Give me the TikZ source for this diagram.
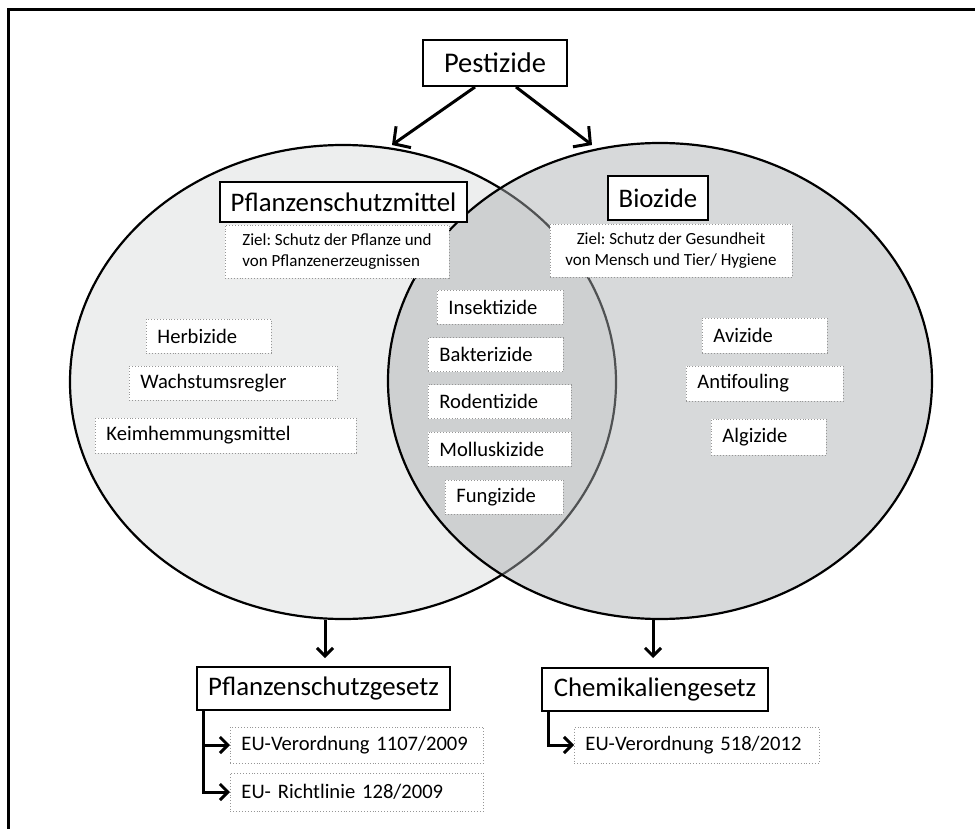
\documentclass[tikz,border=0pt]{standalone}
\usepackage{fontspec}
\setmainfont{Carlito}
\usetikzlibrary{arrows.meta,calc}
\definecolor{lfill}{RGB}{237,238,238}
\definecolor{rfill}{RGB}{172,175,178}
\definecolor{dotgray}{RGB}{150,150,150}
\frenchspacing
\begin{document}
\begin{tikzpicture}[x=1pt,y=-1pt,
  head/.style={draw=black, line width=2.4pt, fill=white, inner sep=0pt, font=\fontsize{26.8}{32}\selectfont},
  item/.style={draw=dotgray, dotted, line width=0.9pt, fill=white, inner xsep=11pt, inner ysep=0pt, text width=#1, align=left, anchor=west, font=\fontsize{20.6}{24}\selectfont, minimum height=34pt},
  ziel/.style={draw=dotgray, dotted, line width=0.9pt, fill=white, inner xsep=0pt, inner ysep=0pt, minimum height=53pt, font=\fontsize{17}{21}\selectfont},
  bigarrow/.style={line width=3pt, -{Straight Barb[length=12pt,width=26pt]}},
  conn/.style={line width=3pt, -{Straight Barb[length=8pt,width=16pt]}}
]
\useasboundingbox (0,0) rectangle (975,829);
\fill[white] (0,0) rectangle (975,829);
% frame
\draw[line width=3pt] (8,829) -- (8,10) -- (975,10);

% ellipses
\draw[line width=2.2pt, fill=lfill] (343,382) ellipse [x radius=273, y radius=237];
\draw[line width=2.2pt, fill=rfill, fill opacity=0.47] (660,381) ellipse [x radius=272, y radius=238];

% top node
\node[head, minimum width=144pt, minimum height=46pt, font=\fontsize{28.5}{34}\selectfont] (pest) at (495,63) {Pestizide};
\coordinate (pL0) at (475,87);
\coordinate (pR0) at (516,87);
\coordinate (eL) at (392,145);
\coordinate (eR) at (592,145);
\draw[bigarrow] (pL0) -- (eL);
\draw[bigarrow] (pR0) -- (eR);

% headings
\node[head, minimum width=247pt, minimum height=40pt] (psm) at (343.5,202) {Pflanzenschutzmittel};
\node[head, minimum width=100pt, minimum height=44pt] (bio) at (658,198) {Biozide};

% Ziel boxes
\node[ziel, minimum width=224pt, align=left] (zielL) at (337,251.5) {Ziel: Schutz der Pflanze und\\von Pflanzenerzeugnissen};
\node[ziel, minimum width=242pt, align=center] (zielR) at (671,251) {Ziel: Schutz der Gesundheit\\von Mensch und Tier/ Hygiene};

% left items
\node[item=103pt] (herb) at (146,336) {Herbizide};
\node[item=186pt] (wachs) at (129,383) {Wachstumsregler};
\node[item=239pt, minimum height=35pt] (keim) at (95,435.5) {Keimhemmungsmittel};

% middle items
\node[item=104pt] (insekt) at (437,307) {Insektizide};
\node[item=113pt] (bakt) at (428,354.5) {Bakterizide};
\node[item=121pt] (rodent) at (428,401.5) {Rodentizide};
\node[item=121pt] (mollusk) at (428,449) {Molluskizide};
\node[item=96pt] (fungi) at (445,497) {Fungizide};

% right items
\node[item=103pt, minimum height=35pt] (avi) at (702,335.5) {Avizide};
\node[item=135pt, minimum height=35pt] (anti) at (686,383.5) {Antifouling};
\node[item=93pt, minimum height=36pt] (algi) at (711,437) {Algizide};

% lower headings
\node[head, minimum width=253pt, minimum height=43pt] (psg) at (323.5,688.5) {Pflanzenschutzgesetz};
\node[head, minimum width=226pt, minimum height=43pt] (chem) at (655,689.5) {Chemikaliengesetz};

% downward arrows
\coordinate (dL0) at (325,620);
\coordinate (dL1) at (325,658);
\coordinate (dR0) at (653,620);
\coordinate (dR1) at (653,658);
\draw[conn] (dL0) -- (dL1);
\draw[conn] (dR0) -- (dR1);

% law items
\node[item=231pt, minimum height=36pt] (eu1107) at (230,745) {EU-Verordnung 1107/2009};
\node[item=231pt, minimum height=38pt] (eu128) at (230,792) {EU- Richtlinie 128/2009};
\node[item=223pt, minimum height=36pt] (eu518) at (574,745) {EU-Verordnung 518/2012};

\coordinate (psgL) at ($(psg.south west)+(8,0)$);
\coordinate (chemL) at ($(chem.south west)+(8,0)$);
\draw[conn] (psgL) |- (eu1107.west);
\draw[conn] (psgL) |- (eu128.west);
\draw[conn] (chemL) |- (eu518.west);
\end{tikzpicture}
\end{document}
